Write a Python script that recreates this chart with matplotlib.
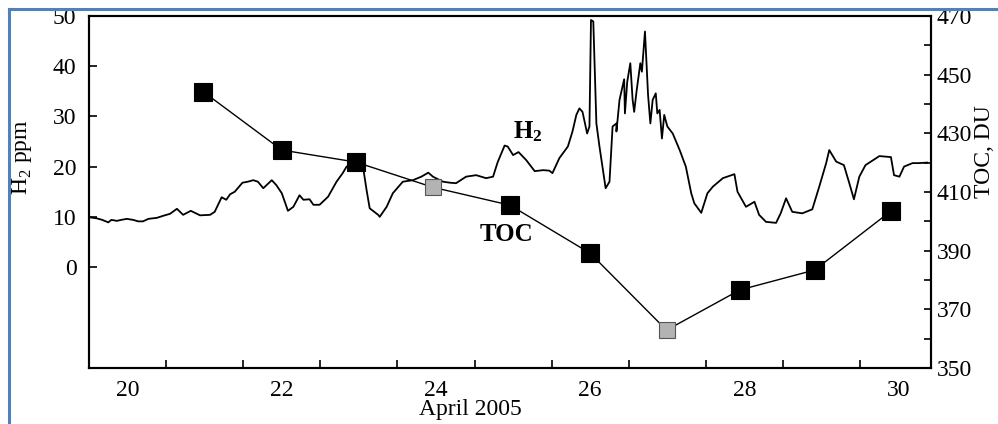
import matplotlib
matplotlib.use('Agg')
import matplotlib.pyplot as plt
from matplotlib.lines import Line2D

plt.rcParams['font.family'] = ['Liberation Serif', 'DejaVu Serif']
plt.rcParams['mathtext.fontset'] = 'custom'
plt.rcParams['mathtext.rm'] = 'Liberation Serif'
plt.rcParams['mathtext.bf'] = 'Liberation Serif:bold'

# H2 concentration (ppm) vs time (day of April 2005)
h2_day = [20.01, 20.10, 20.17, 20.25, 20.29, 20.36, 20.42, 20.49, 20.57, 20.64,
          20.70, 20.77, 20.88, 20.96, 21.05, 21.14, 21.22, 21.32, 21.44, 21.57,
          21.63, 21.72, 21.78, 21.83, 21.89, 21.99, 22.06, 22.13, 22.19, 22.26,
          22.37, 22.43, 22.50, 22.58, 22.65, 22.73, 22.78, 22.86, 22.91, 22.99,
          23.10, 23.21, 23.29, 23.34, 23.42, 23.55, 23.60, 23.64, 23.75, 23.77,
          23.86, 23.94, 24.07, 24.20, 24.31, 24.40, 24.46, 24.59, 24.68, 24.76,
          24.89, 25.02, 25.15, 25.24, 25.30, 25.39, 25.43, 25.50, 25.57, 25.67,
          25.78, 25.89, 25.97, 26.01, 26.10, 26.21, 26.27, 26.32, 26.36, 26.40,
          26.46, 26.49, 26.51, 26.54, 26.58, 26.62, 26.70, 26.75, 26.79, 26.84,
          26.84, 26.88, 26.94, 26.95, 26.98, 27.02, 27.05, 27.07, 27.10, 27.15,
          27.17, 27.21, 27.25, 27.28, 27.31, 27.35, 27.37, 27.40, 27.43, 27.46,
          27.50, 27.57, 27.66, 27.74, 27.81, 27.85, 27.94, 28.02, 28.09, 28.22,
          28.37, 28.41, 28.52, 28.63, 28.69, 28.78, 28.91, 28.97, 29.04, 29.12,
          29.25, 29.38, 29.47, 29.56, 29.60, 29.69, 29.79, 29.86, 29.92, 29.99,
          30.07, 30.25, 30.40, 30.44, 30.51, 30.57, 30.68, 30.76, 30.87]
h2_ppm = [9.9, 9.7, 9.4, 8.9, 9.4, 9.2, 9.4, 9.6, 9.4, 9.1,
          9.1, 9.6, 9.8, 10.2, 10.6, 11.6, 10.4, 11.2, 10.3, 10.4,
          11.0, 13.9, 13.4, 14.5, 15.0, 16.8, 17.0, 17.3, 17.0, 15.7,
          17.3, 16.3, 14.7, 11.2, 12.0, 14.3, 13.4, 13.5, 12.4, 12.4,
          14.0, 17.0, 18.7, 20.0, 20.7, 20.3, 15.3, 11.7, 10.4, 10.0,
          12.0, 14.7, 17.0, 17.3, 18.0, 18.8, 18.0, 17.0, 16.8, 16.7,
          18.0, 18.3, 17.7, 18.0, 20.9, 24.2, 24.0, 22.3, 22.9, 21.3,
          19.1, 19.3, 19.2, 18.7, 21.7, 24.0, 27.0, 30.3, 31.6, 30.9,
          26.6, 28.0, 49.2, 48.9, 28.6, 24.0, 15.7, 17.0, 28.0, 28.6,
          27.0, 33.3, 37.4, 30.6, 36.9, 40.6, 33.3, 30.9, 34.9, 40.6,
          38.9, 46.9, 34.3, 28.6, 33.3, 34.6, 30.6, 31.3, 25.6, 30.3,
          28.0, 26.6, 23.3, 20.0, 14.7, 12.7, 10.8, 14.7, 16.0, 17.7,
          18.5, 15.0, 12.0, 13.0, 10.4, 9.0, 8.8, 10.7, 13.7, 11.0,
          10.7, 11.5, 16.0, 20.7, 23.3, 21.0, 20.3, 16.7, 13.5, 18.0,
          20.3, 22.1, 21.9, 18.3, 18.0, 20.0, 20.7, 20.7, 20.8]

# total ozone column (DU), daily values
toc_day = [21.48, 22.50, 23.46, 24.46, 25.46, 26.50, 27.49, 28.44, 29.41, 30.40]
toc_du = [444.2, 424.3, 420.2, 411.6, 405.5, 389.1, 362.9, 376.6, 383.4, 403.5]
toc_gray = [False, False, False, True, False, False, True, False, False, False]

fig = plt.figure(figsize=(9.98, 4.24), dpi=100)
ax = fig.add_axes([0.0892, 0.1321, 0.8437, 0.8302])
ax2 = ax.twinx()

ax.plot(h2_day, h2_ppm, color='black', lw=1.3)

ax2.plot(toc_day, toc_du, color='black', lw=1.0, zorder=2)
for d, v, g in zip(toc_day, toc_du, toc_gray):
    ax2.plot(d, v, marker='s', ms=12.5 if not g else 11.5,
             mfc='#b3b3b3' if g else 'black',
             mec='#555555' if g else 'black', mew=0.8, zorder=3)

ax.set_xlim(20.0, 30.92)
ax.set_ylim(-20.1, 50)
ax2.set_ylim(350, 470)

ax.set_xticks(range(21, 31))
ax.set_xticklabels([])
ax.set_xticks([20.5, 22.5, 24.5, 26.5, 28.5, 30.5], minor=True)
ax.set_xticklabels(['20', '22', '24', '26', '28', '30'], minor=True)
ax.tick_params(axis='x', which='major', direction='in', length=6, width=1.2)
ax.tick_params(axis='x', which='minor', length=0, pad=9, labelsize=17)

ax.set_yticks([0, 10, 20, 30, 40, 50])
ax.tick_params(axis='y', direction='in', length=6, width=1.2, labelsize=17, pad=9)

ax2.set_yticks([350, 370, 390, 410, 430, 450, 470])
ax2.set_yticks([360, 380, 400, 420, 440, 460], minor=True)
ax2.tick_params(axis='y', which='both', direction='in', length=5, width=1.2,
                labelsize=17, pad=4)

for a in (ax, ax2):
    for s in a.spines.values():
        s.set_linewidth(1.5)

ax.text(25.69, 27, r'$\mathbf{H_2}$', fontsize=18, ha='center', va='center')
ax.text(25.42, 6.5, 'TOC', fontsize=18, fontweight='bold', ha='center', va='center')

fig.text(22 / 998, 1 - 157 / 424, r'H$_2$ ppm', rotation=90, fontsize=17,
         ha='center', va='center')
fig.text(985 / 998, 1 - 152 / 424, 'TOC, DU', rotation=90, fontsize=17,
         ha='center', va='center')
fig.text(470 / 998, 1 - 410 / 424, 'April 2005', fontsize=17,
         ha='center', va='center')

# blue frame (only left and top edges visible)
fig.add_artist(Line2D([9 / 998, 9 / 998], [0, 1 - 9 / 424], transform=fig.transFigure,
                      color='#4f81bd', lw=2.2))
fig.add_artist(Line2D([9 / 998, 1], [1 - 9 / 424, 1 - 9 / 424], transform=fig.transFigure,
                      color='#4f81bd', lw=2.2))

fig.savefig('out.png', dpi=100)
